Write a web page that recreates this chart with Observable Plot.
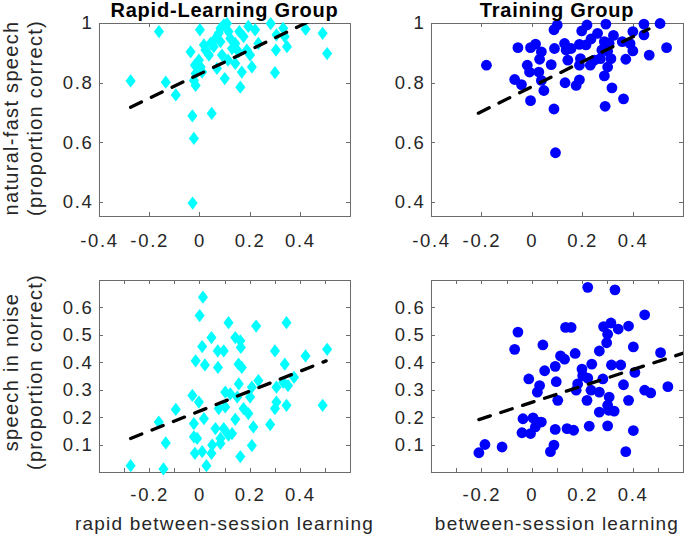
<!DOCTYPE html>
<html><head><meta charset="utf-8">
<script src="https://cdn.jsdelivr.net/npm/d3@7"></script>
<script src="https://cdn.jsdelivr.net/npm/@observablehq/plot@0.6"></script>
<style>
body{margin:0;background:#fff}
#chart{position:relative;width:685px;height:534px;overflow:hidden;background:#fff}
#chart svg{position:absolute}
</style></head><body><div id="chart"></div>
<script>
// ---------- data ----------
const rapidFastX = [-0.276,-0.163,-0.136,-0.096,-0.030,-0.024,-0.029,0.047,-0.017,0.000,-0.037,-0.020,-0.024,0.009,-0.004,0.022,0.042,0.062,0.075,0.095,0.108,0.114,0.068,0.099,0.088,0.128,0.141,0.157,0.167,0.161,0.193,0.200,0.207,0.220,0.233,0.282,0.305,0.303,0.299,0.332,0.338,0.347,0.421,0.489,0.507,0.036,0.055,0.082,0.121,0.141,0.174,0.187,0.112,0.082,0.154,0.003,-0.017,0.016];
const rapidFastY = [0.807,0.973,0.803,0.760,0.690,0.614,0.397,0.698,0.792,0.979,0.905,0.860,0.809,0.837,0.877,0.911,0.933,0.950,0.967,0.995,1.000,0.973,0.849,0.815,0.894,0.916,0.866,0.973,0.837,0.786,0.990,0.894,0.854,0.979,0.933,1.000,0.962,0.911,0.835,0.984,0.956,0.922,0.981,0.967,0.899,0.894,0.922,0.939,0.950,0.933,0.956,0.911,0.877,0.984,0.905,0.854,0.832,0.928];

const trainFastX = [-0.182,-0.057,-0.070,-0.043,-0.020,-0.007,0.013,-0.011,0.026,0.036,0.029,0.036,0.046,-0.007,0.075,0.086,0.092,0.086,0.099,0.088,0.130,0.128,0.141,0.154,0.174,0.187,0.187,0.191,0.187,0.196,0.217,0.233,0.230,0.246,0.259,0.270,0.292,0.286,0.299,0.312,0.299,0.286,0.316,0.289,0.322,0.357,0.371,0.362,0.388,0.399,0.399,0.443,0.443,0.464,0.507,0.533,0.213,0.305,0.276,0.134];
const trainFastY = [0.860,0.919,0.812,0.795,0.860,0.919,0.931,0.837,0.837,0.905,0.880,0.809,0.775,0.741,0.862,0.713,0.566,0.979,0.995,0.916,0.801,0.933,0.877,0.916,0.792,0.811,0.860,0.882,0.930,0.975,0.995,0.948,0.860,0.877,0.967,0.882,0.998,0.939,0.907,0.882,0.854,0.824,0.784,0.722,0.960,0.939,0.880,0.747,0.933,0.908,0.973,0.998,0.962,0.894,1.000,0.919,0.928,0.933,0.911,0.911];

const rapidNoiseX = [-0.276,-0.145,-0.164,-0.136,-0.096,-0.030,-0.024,-0.024,-0.020,-0.017,-0.001,0.012,0.009,0.020,0.016,-0.004,-0.011,0.009,0.026,0.046,0.049,0.046,0.062,0.071,0.072,0.075,0.082,0.095,0.095,0.101,0.101,0.114,0.114,0.121,0.141,0.141,0.149,0.155,0.161,0.163,0.154,0.167,0.161,0.174,0.193,0.200,0.207,0.213,0.207,0.224,0.233,0.280,0.299,0.299,0.305,0.305,0.338,0.345,0.345,0.351,0.332,0.375,0.421,0.489,0.507,0.082,0.128];
const rapidNoiseY = [0.025,0.013,0.184,0.108,0.230,0.281,0.178,0.130,0.070,0.407,0.572,0.639,0.459,0.392,0.196,0.257,0.124,0.076,0.025,0.492,0.100,0.070,0.160,0.443,0.383,0.233,0.124,0.443,0.160,0.293,0.239,0.546,0.136,0.287,0.492,0.194,0.275,0.323,0.480,0.456,0.395,0.383,0.058,0.233,0.215,0.275,0.311,0.166,0.098,0.534,0.335,0.175,0.443,0.233,0.257,0.311,0.395,0.546,0.245,0.317,0.329,0.347,0.425,0.245,0.449,0.106,0.142];

const trainNoiseX = [-0.212,-0.188,-0.120,-0.070,-0.057,-0.037,-0.041,-0.014,-0.007,0.003,0.012,0.022,0.036,0.020,0.029,0.042,0.049,0.072,0.086,0.091,0.091,0.095,0.101,0.112,0.128,0.132,0.154,0.138,0.164,0.170,0.174,0.180,0.197,0.200,0.217,0.220,0.220,0.226,0.236,0.233,0.266,0.266,0.266,0.280,0.283,0.295,0.299,0.305,0.299,0.303,0.299,0.312,0.314,0.325,0.328,0.341,0.351,0.362,0.371,0.382,0.382,0.401,0.407,0.401,0.446,0.446,0.470,0.509,0.538];
const trainNoiseY = [0.072,0.102,0.093,0.449,0.512,0.196,0.145,0.341,0.142,0.199,0.166,0.184,0.184,0.293,0.317,0.465,0.371,0.076,0.100,0.157,0.387,0.331,0.263,0.425,0.413,0.529,0.529,0.160,0.154,0.434,0.300,0.323,0.377,0.353,0.263,0.344,0.675,0.169,0.395,0.300,0.443,0.220,0.293,0.341,0.532,0.473,0.504,0.275,0.245,0.227,0.170,0.545,0.392,0.224,0.666,0.523,0.392,0.320,0.076,0.534,0.263,0.458,0.365,0.153,0.575,0.300,0.290,0.437,0.313];

// fitted regression lines (end points)
const rapidFastFitX = [-0.276, 0.507],  rapidFastFitY = [0.719, 1.036];
const trainFastFitX = [-0.214, 0.463],  trainFastFitY = [0.699, 0.982];
const rapidNoiseFitX = [-0.276, 0.503], rapidNoiseFitY = [0.124, 0.407];
const trainNoiseFitX = [-0.212, 0.620], trainNoiseFitY = [0.193, 0.441];

// axes
const xDomain = [-0.4, 0.6];
const fastYDomain = [0.352, 1.0];
const noiseYDomain = [0.0, 0.7];
const fastXTickLabels = [-0.4, -0.2, 0, 0.2, 0.4];
const noiseXTickLabels = [-0.2, 0, 0.2, 0.4];
const fastXTicks = [-0.2, 0, 0.2, 0.4];
const noiseXTicks = [-0.3, -0.2, -0.1, 0, 0.1, 0.2, 0.3, 0.4, 0.5];
const fastYTicks = [0.4, 0.6, 0.8, 1];
const noiseYTicks = [0.1, 0.2, 0.3, 0.4, 0.5, 0.6];

const titles = ["Rapid-Learning Group", "Training Group"];
const yLabels = [["natural-fast speech", "(proportion correct)"], ["speech in noise", "(proportion correct)"]];
const xLabels = ["rapid between-session learning", "between-session learning"];

// ---------- drawing ----------
const FRAME = "#6b6b6b";
const TXT = "#262626";
const FONT = "'Liberation Sans', Arial, sans-serif";
const chart = document.getElementById("chart");

const diamond = {
  draw(ctx, size) {
    const r = Math.sqrt(size / Math.PI);
    const w = r * 0.95, h = r * 1.25;
    ctx.moveTo(0, -h); ctx.lineTo(w, 0); ctx.lineTo(0, h); ctx.lineTo(-w, 0); ctx.closePath();
  }
};

function inwardTicks(xt, yt) {
  return (index, scales, values, dim) => {
    const len = 4;
    const g = d3.create("svg:g").attr("stroke", FRAME).attr("stroke-width", 1);
    const top = dim.marginTop, bottom = dim.height - dim.marginBottom;
    const left = dim.marginLeft, right = dim.width - dim.marginRight;
    for (const t of xt) {
      const x = Math.round(scales.x(t)) + 0.5;
      g.append("line").attr("x1", x).attr("x2", x).attr("y1", bottom).attr("y2", bottom - len);
      g.append("line").attr("x1", x).attr("x2", x).attr("y1", top).attr("y2", top + len);
    }
    for (const t of yt) {
      const y = Math.round(scales.y(t)) + 0.5;
      g.append("line").attr("x1", left).attr("x2", left + len).attr("y1", y).attr("y2", y);
      g.append("line").attr("x1", right).attr("x2", right - len).attr("y1", y).attr("y2", y);
    }
    return g.node();
  };
}

function panel(cfg) {
  const m = {l: 46, r: 12, t: 12, b: 36};
  const data = cfg.xs.map((x, i) => ({x, y: cfg.ys[i]}));
  const fit = cfg.fx.map((x, i) => ({x, y: cfg.fy[i]}));
  const svg = Plot.plot({
    width: cfg.W + m.l + m.r,
    height: cfg.H + m.t + m.b,
    marginLeft: m.l, marginRight: m.r, marginTop: m.t, marginBottom: m.b,
    x: {domain: xDomain, ticks: cfg.xLab, tickSize: 0, tickPadding: cfg.xPad, tickFormat: d => String(d), label: null},
    y: {domain: cfg.yDomain, ticks: cfg.yTicks, tickSize: 0, tickPadding: 6, tickFormat: d => String(d), label: null},
    style: {fontFamily: FONT, fontSize: "18.5px", color: TXT, background: "transparent", overflow: "visible", letterSpacing: "1.7px", maxWidth: "none"},
    marks: [
      Plot.frame({stroke: FRAME}),
      inwardTicks(cfg.xTicks, cfg.yTicks),
      Plot.dot(data, {x: "x", y: "y", r: cfg.r, fill: cfg.color, symbol: cfg.symbol}),
      Plot.line(fit, {x: "x", y: "y", stroke: "#000", strokeWidth: 3.3, strokeDasharray: "12,11", clip: true})
    ]
  });
  svg.style.left = (cfg.L - m.l) + "px";
  svg.style.top = (cfg.T - m.t) + "px";
  chart.append(svg);
}

const cyan = "#00ffff", blue = "#0000ff";
panel({L: 99, T: 23, W: 251, H: 193, xs: rapidFastX, ys: rapidFastY, fx: rapidFastFitX, fy: rapidFastFitY,
  yDomain: fastYDomain, xLab: fastXTickLabels, xTicks: fastXTicks, yTicks: fastYTicks, xPad: 17, color: cyan, symbol: diamond, r: 5.3});
panel({L: 431, T: 23, W: 252, H: 193, xs: trainFastX, ys: trainFastY, fx: trainFastFitX, fy: trainFastFitY,
  yDomain: fastYDomain, xLab: fastXTickLabels, xTicks: fastXTicks, yTicks: fastYTicks, xPad: 17, color: blue, symbol: "circle", r: 5.4});
panel({L: 99, T: 280, W: 251, H: 192, xs: rapidNoiseX, ys: rapidNoiseY, fx: rapidNoiseFitX, fy: rapidNoiseFitY,
  yDomain: noiseYDomain, xLab: noiseXTickLabels, xTicks: noiseXTicks, yTicks: noiseYTicks, xPad: 15, color: cyan, symbol: diamond, r: 5.3});
panel({L: 431, T: 280, W: 252, H: 192, xs: trainNoiseX, ys: trainNoiseY, fx: trainNoiseFitX, fy: trainNoiseFitY,
  yDomain: noiseYDomain, xLab: noiseXTickLabels, xTicks: noiseXTicks, yTicks: noiseYTicks, xPad: 15, color: blue, symbol: "circle", r: 5.4});

// text overlay
const ov = d3.select(chart).append("svg").attr("width", 685).attr("height", 534)
  .style("left", "0px").style("top", "0px").style("pointer-events", "none")
  .attr("font-family", FONT);
const centers = [224.5, 557];
titles.forEach((t, i) => {
  ov.append("text").attr("x", centers[i]).attr("y", 16.5).attr("text-anchor", "middle")
    .attr("font-size", 20).attr("font-weight", "bold").attr("fill", "#000")
    .style("letter-spacing", "0.8px").text(t);
});
const rowCenters = [118, 372];
yLabels.forEach((lines, i) => {
  lines.forEach((line, j) => {
    ov.append("text").attr("transform", `translate(${18 + 24 * j},${rowCenters[i]}) rotate(-90)`)
      .attr("text-anchor", "middle").attr("font-size", 20).attr("fill", TXT)
      .style("letter-spacing", "1.3px").text(line);
  });
});
xLabels.forEach((t, i) => {
  ov.append("text").attr("x", centers[i]).attr("y", 530).attr("text-anchor", "middle")
    .attr("font-size", 19).attr("fill", TXT).style("letter-spacing", "1.2px").text(t);
});
</script></body></html>
